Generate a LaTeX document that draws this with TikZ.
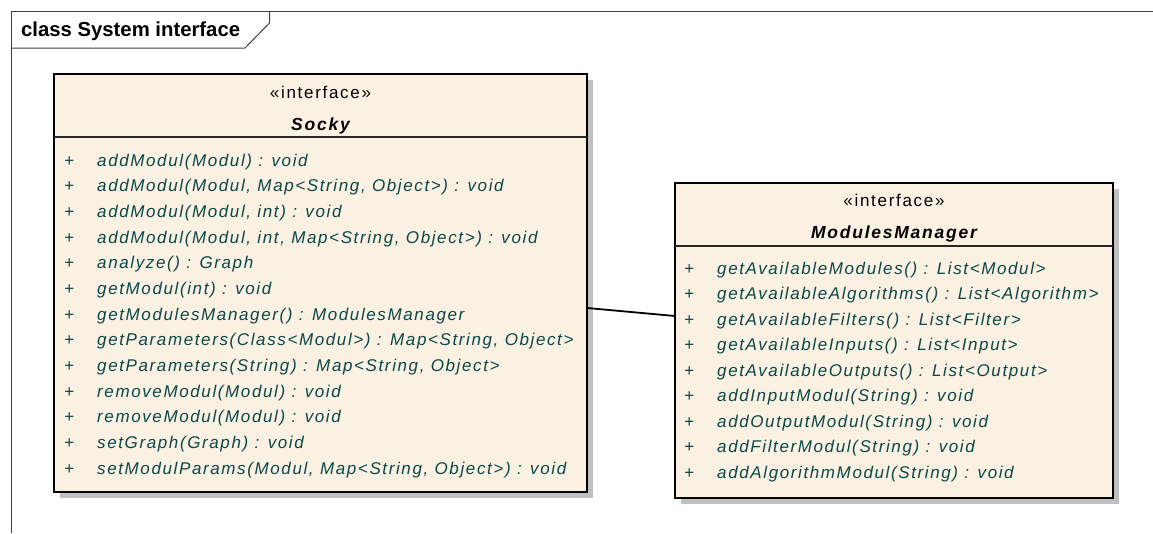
\documentclass[tikz,border=0pt]{standalone}
\usepackage{fontspec}
\setmainfont{Liberation Sans}
\newfontfamily\memberfont[LetterSpace=9.5]{Liberation Sans}
\newfontfamily\headfont[LetterSpace=10]{Liberation Sans}
\usetikzlibrary{shadows,calc}

\definecolor{classfill}{RGB}{251,241,227}
\definecolor{membertext}{RGB}{10,72,72}
\definecolor{framegray}{RGB}{64,64,64}
\definecolor{shadowgray}{RGB}{192,192,192}

\tikzset{
  classbox/.style={draw=black, line width=1.8pt, fill=classfill, anchor=north west,
    inner sep=0pt, outer sep=0pt,
    drop shadow={shadow xshift=6pt, shadow yshift=-6pt, fill=shadowgray, opacity=1}},
  divider/.style={draw=black!85, line width=1.6pt},
  frameline/.style={draw=framegray, line width=1pt},
  assoc/.style={draw=black, line width=1.8pt},
  stereo/.style={anchor=base, inner sep=0pt, font=\headfont\fontsize{17}{20}\selectfont},
  classname/.style={anchor=base, inner sep=0pt,
    font=\headfont\bfseries\itshape\fontsize{17.5}{20}\selectfont},
  member/.style={anchor=base west, inner sep=0pt, text=membertext,
    font=\memberfont\itshape\fontsize{17}{20}\selectfont},
  title/.style={anchor=base west, inner sep=0pt, font=\bfseries\fontsize{20.3}{23}\selectfont}
}

\begin{document}
\begin{tikzpicture}[x=1pt, y=-1pt]
  \useasboundingbox (0,0) rectangle (1153,533);

  % diagram frame with its name tab
  \coordinate (fr) at (1153,11);
  \coordinate (fo) at (11,11);
  \coordinate (fb) at (11,533);
  \coordinate (tabl) at (11,48);
  \coordinate (tabc) at (245,48);
  \coordinate (tabd) at (269.5,23);
  \coordinate (tabt) at (269.5,11);
  \draw[frameline] (fr) -- (fo) -- (fb);
  \draw[frameline] (tabl) -- (tabc) -- (tabd) -- (tabt);
  \node[title] (frametitle) at (21,36) {class System interface};

  % interface Socky
  \node[classbox, minimum width=533pt, minimum height=418pt] (socky) at (54,74) {};
  \draw[divider] (socky.west |- 0,137) -- (socky.east |- 0,137);
  \node[stereo] (sockystereo) at (socky.north |- 0,98) {«interface»};
  \node[classname] (sockyname) at (socky.north |- 0,130) {Socky};
  \foreach \t [count=\i] in {
    {addModul(Modul) : void},
    {addModul(Modul, Map<String, Object>) : void},
    {addModul(Modul, int) : void},
    {addModul(Modul, int, Map<String, Object>) : void},
    {analyze() : Graph},
    {getModul(int) : void},
    {getModulesManager() : ModulesManager},
    {getParameters(Class<Modul>) : Map<String, Object>},
    {getParameters(String) : Map<String, Object>},
    {removeModul(Modul) : void},
    {removeModul(Modul) : void},
    {setGraph(Graph) : void},
    {setModulParams(Modul, Map<String, Object>) : void}} {
    \node[member] (sop\i) at (64, {166+25.67*(\i-1)}) {\makebox[33pt][l]{+}\t};
  }

  % interface ModulesManager
  \node[classbox, minimum width=438pt, minimum height=315pt] (mgr) at (675,183) {};
  \draw[divider] (mgr.west |- 0,246) -- (mgr.east |- 0,246);
  \node[stereo] (mgrstereo) at (mgr.north |- 0,206) {«interface»};
  \node[classname] (mgrname) at (mgr.north |- 0,238) {ModulesManager};
  \foreach \t [count=\i] in {
    {getAvailableModules() : List<Modul>},
    {getAvailableAlgorithms() : List<Algorithm>},
    {getAvailableFilters() : List<Filter>},
    {getAvailableInputs() : List<Input>},
    {getAvailableOutputs() : List<Output>},
    {addInputModul(String) : void},
    {addOutputModul(String) : void},
    {addFilterModul(String) : void},
    {addAlgorithmModul(String) : void}} {
    \node[member] (mop\i) at (684, {274+25.5*(\i-1)}) {\makebox[33pt][l]{+}\t};
  }

  % association between the two interfaces
  \draw[assoc] ([yshift=-25pt]socky.east) -- ([yshift=24.5pt]mgr.west);
\end{tikzpicture}
\end{document}
